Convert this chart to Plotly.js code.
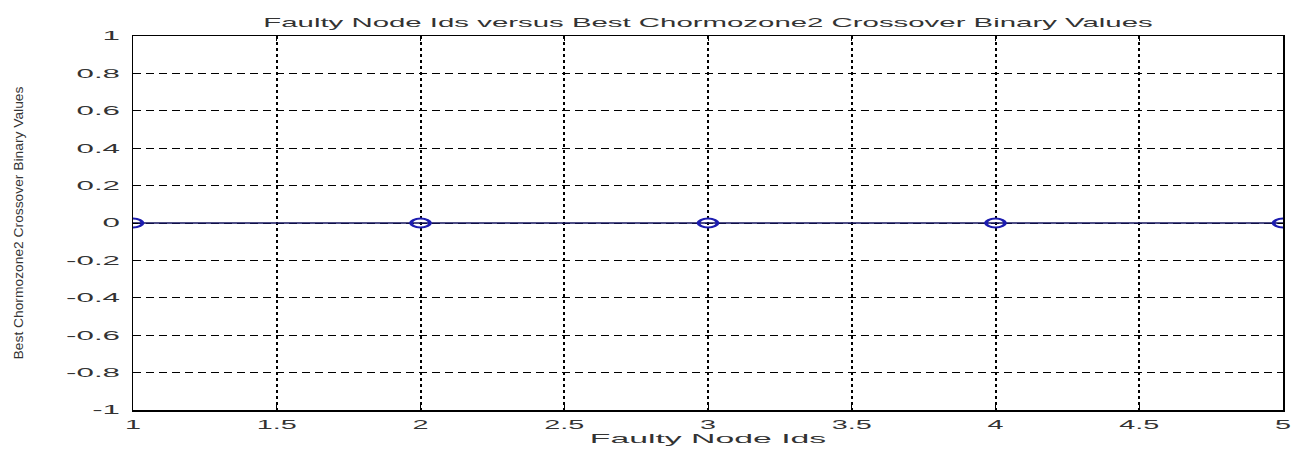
<!DOCTYPE html>
<html>
<head>
<meta charset="utf-8">
<script src="https://cdn.plot.ly/plotly-3.0.1.min.js"></script>
<style>
  html, body { margin: 0; padding: 0; background: #fff; }
  #chart { width: 1306px; height: 451px; }
</style>
</head>
<body>
<div id="chart"></div>
<script>
// Faulty node ids and the crossover binary value of the best chromosome
const faultyNodeIds = [1, 2, 3, 4, 5];
const crossoverBinaryValues = [0, 0, 0, 0, 0];

const xTickVals = [1, 1.5, 2, 2.5, 3, 3.5, 4, 4.5, 5];
const xTickText = ['1', '1.5', '2', '2.5', '3', '3.5', '4', '4.5', '5'];
const yTickVals = [-1, -0.8, -0.6, -0.4, -0.2, 0, 0.2, 0.4, 0.6, 0.8, 1];
const yTickText = ['-1', '-0.8', '-0.6', '-0.4', '-0.2', '0', '0.2', '0.4', '0.6', '0.8', '1'];

const FONT = 'Liberation Sans, Arial, sans-serif';
const INK = '#333';

const trace = {
  x: faultyNodeIds,
  y: crossoverBinaryValues,
  type: 'scatter',
  mode: 'lines+markers',
  line: { color: '#14145e', width: 1.5 },
  marker: { symbol: 'circle-open', size: 10, color: '#1c1cb0', line: { width: 2 } },
  hoverinfo: 'x+y',
  showlegend: false
};

const axisCommon = {
  showline: true,
  linecolor: '#000',
  linewidth: 1.5,
  mirror: 'ticks',
  ticks: 'inside',
  ticklen: 5,
  tickwidth: 1,
  tickcolor: '#000',
  showgrid: true,
  gridcolor: '#000',
  zeroline: false,
  tickfont: { family: FONT, size: 12.5, color: INK },
  tickmode: 'array'
};

const layout = {
  width: 1306,
  height: 451,
  margin: { l: 133, r: 23, t: 36, b: 41 },
  paper_bgcolor: '#fff',
  plot_bgcolor: '#fff',
  title: {
    text: 'Faulty Node Ids versus Best Chormozone2 Crossover Binary Values',
    font: { family: FONT, size: 13, color: INK },
    x: 0.5, xref: 'paper', xanchor: 'center',
    y: 1, yref: 'paper', yanchor: 'bottom', pad: { b: 9 }
  },
  xaxis: Object.assign({}, axisCommon, {
    range: [1, 5],
    tickvals: xTickVals,
    ticktext: xTickText,
    griddash: '3px,3px',
    gridwidth: 2,
    ticklabelstandoff: 2,
    title: { text: 'Faulty Node Ids', font: { family: FONT, size: 13.5, color: INK }, standoff: 2 }
  }),
  yaxis: Object.assign({}, axisCommon, {
    range: [-1, 1],
    tickvals: yTickVals,
    ticktext: yTickText,
    griddash: '8px,5px',
    gridwidth: 1,
    ticklabelstandoff: 9,
    title: { text: 'Best Chormozone2 Crossover Binary Values', font: { family: FONT, size: 12, color: INK }, standoff: 72 }
  })
};

// Stretch rendered labels along their own direction
function stretchText(selector, factor) {
  document.querySelectorAll(selector).forEach(function (t) {
    if (!t.dataset.natural) t.dataset.natural = t.getComputedTextLength();
    t.setAttribute('lengthAdjust', 'spacingAndGlyphs');
    t.setAttribute('textLength', (parseFloat(t.dataset.natural) * factor).toFixed(1));
  });
}

// Widen the circle markers into flat ellipses
function flattenMarkers() {
  document.querySelectorAll('#chart .scatterlayer .point').forEach(function (p) {
    const tr = p.getAttribute('transform') || '';
    if (tr.indexOf('scale') === -1) p.setAttribute('transform', tr + ' scale(1.9,0.9)');
  });
}

function restyleText() {
  stretchText('#chart .gtitle', 2.26);
  stretchText('#chart .xtick text', 2.3);
  stretchText('#chart .ytick text', 2.5);
  stretchText('#chart .g-xtitle text', 2.5);
  stretchText('#chart .g-ytitle text', 1.15);
  flattenMarkers();
}

Plotly.newPlot('chart', [trace], layout, { displayModeBar: false, staticPlot: true }).then(function (gd) {
  restyleText();
  gd.on('plotly_afterplot', restyleText);
});
</script>
</body>
</html>
